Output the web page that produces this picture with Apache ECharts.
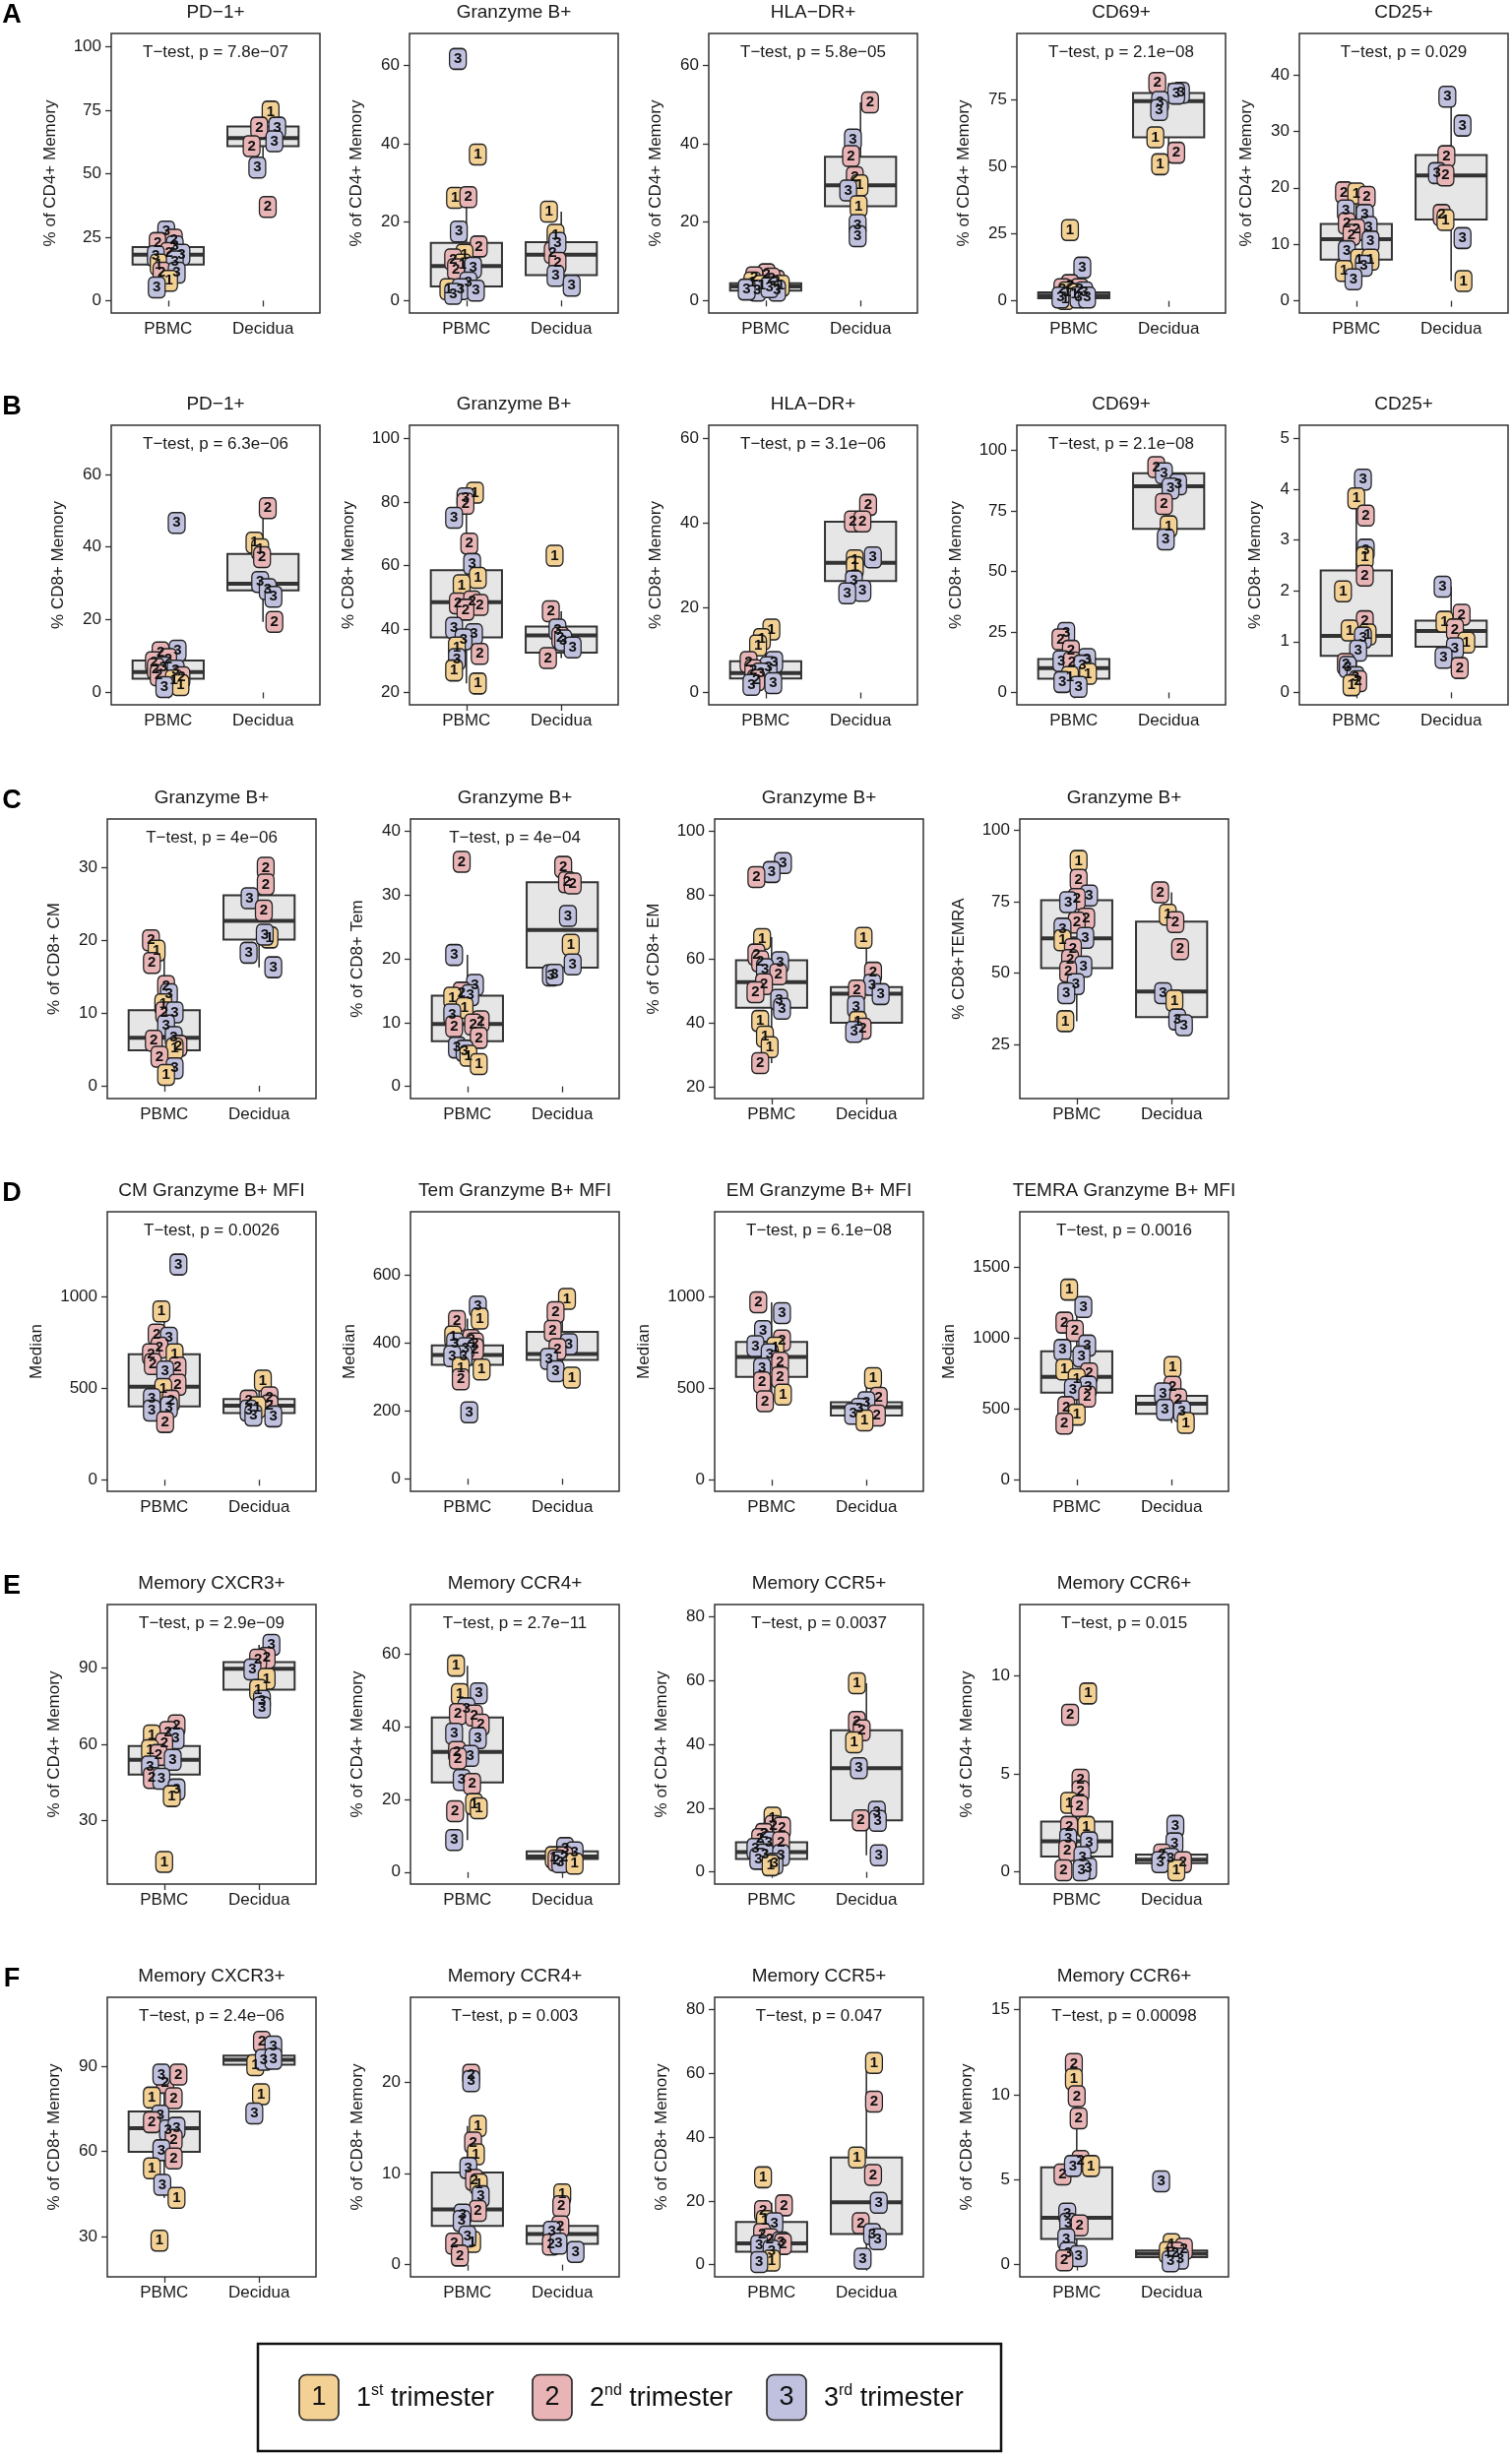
<!DOCTYPE html>
<html>
<head>
<meta charset="utf-8">
<script src="https://cdn.jsdelivr.net/npm/echarts@6/dist/echarts.min.js"></script>
<style>
  html, body { margin: 0; background: #fff; }
  #chart { width: 1536px; height: 2495px; }
</style>
</head>
<body>
<div id="chart"></div>
<script>
// points: [x position (1 = PBMC, 2 = Decidua, with jitter), value, trimester]
// boxes: [low whisker, q1, median, q3, high whisker] for PBMC then Decidua

// ---- A : CD4+ memory ----
const titlesA = ['PD\u22121+', 'Granzyme B+', 'HLA\u2212DR+', 'CD69+', 'CD25+'];
const yNamesA = ['% of CD4+ Memory', '% of CD4+ Memory', '% of CD4+ Memory', '% of CD4+ Memory', '% of CD4+ Memory'];
const pvalsA = ['T\u2212test, p = 7.8e\u221207', null, 'T\u2212test, p = 5.8e\u221205', 'T\u2212test, p = 2.1e\u221208', 'T\u2212test, p = 0.029'];
const yRangeA = [[-4.9, 105.3], [-3.2, 68.2], [-3.2, 68.2], [-4.5, 99.6], [-2.15, 47.3]];
const yTicksA = [[0, 25, 50, 75, 100], [0, 20, 40, 60], [0, 20, 40, 60], [0, 25, 50, 75], [0, 10, 20, 30, 40]];

const ptsA1 = [
  [0.98,27.2,3],[0.89,22.7,2],[1.06,24.0,2],[1.07,21.4,3],[1.01,18.8,2],[0.87,17.5,3],[1.14,18.1,3],
  [0.90,14.2,1],[1.07,15.5,3],[0.93,11.0,2],[1.09,11.0,3],[1.01,7.8,1],[0.88,5.2,3],
  [2.08,74.5,1],[1.96,68.2,2],[2.15,68.2,3],[2.12,62.8,3],[1.88,60.9,2],[1.94,52.4,3],[2.05,36.9,2]
];
const boxA1 = [[5.2, 14.2, 18.1, 21.1, 27.2], [52.4, 60.9, 64.1, 68.6, 74.5]];
const ptsA2 = [
  [0.91,61.7,3],[1.12,37.3,1],[0.88,26.2,1],[1.02,26.4,2],[0.92,17.6,3],[1.13,13.8,2],[0.98,11.7,1],
  [0.86,10.5,2],[0.96,9.2,1],[1.07,8.4,3],[0.89,8.0,2],[1.02,4.6,3],[0.81,2.9,1],[0.94,2.9,3],[0.86,1.7,3],[1.10,2.5,3],
  [1.87,22.7,1],[1.94,16.8,1],[1.91,12.2,2],[1.96,14.7,3],[1.96,9.6,2],[1.94,6.3,3],[2.11,3.8,3]
];
const boxA2 = [[0.5, 3.6, 8.8, 14.7, 26.4], [3.8, 6.5, 11.7, 14.9, 22.7]];
const ptsA3 = [
  [1.01,6.7,2],[0.88,5.9,2],[0.86,4.6,1],[1.11,5.0,2],[1.06,5.6,2],[0.96,3.8,1],[1.16,3.8,1],
  [0.91,2.5,3],[1.12,2.5,3],[1.04,3.4,3],[0.80,2.8,3],
  [2.10,50.6,2],[1.92,41.1,3],[1.90,36.9,2],[1.94,31.5,2],[1.99,29.4,1],[1.87,28.1,3],[1.98,24.1,1],[1.97,19.3,3],[1.97,16.4,3]
];
const boxA3 = [[0.8, 2.5, 3.6, 4.4, 6.7], [16.4, 24.1, 29.4, 36.7, 50.6]];
const ptsA4 = [
  [0.96,26.4,1],[1.09,12.4,3],[0.96,5.9,2],[1.06,4.4,2],[0.88,4.4,2],[0.93,3.2,1],[1.01,2.6,1],[1.11,3.2,3],
  [0.91,0.7,1],[0.86,1.3,3],[1.05,1.3,3],[1.14,1.3,3],
  [1.88,81.2,2],[2.13,77.5,3],[2.08,77.2,3],[1.91,74.1,3],[1.90,71.1,3],[1.86,60.9,1],[2.08,55.2,2],[1.91,50.9,1]
];
const boxA4 = [[0.2, 1.0, 2.0, 3.2, 5.9], [50.9, 60.9, 74.4, 77.4, 81.2]];
const ptsA5 = [
  [0.87,19.2,2],[1.00,19.0,1],[1.11,18.4,2],[0.89,16.0,3],[1.09,15.2,3],[0.90,13.7,2],[1.13,13.1,3],[1.00,12.6,2],
  [0.95,11.7,2],[1.15,10.5,3],[0.90,8.8,3],[1.03,7.3,1],[1.15,7.3,1],[1.08,6.2,3],[0.87,5.3,1],[0.97,3.8,3],
  [1.96,36.1,3],[2.12,31.0,3],[1.95,25.6,2],[1.85,22.6,3],[1.94,22.2,2],[1.90,15.2,2],[1.94,14.3,1],[2.12,11.1,3],[2.13,3.5,1]
];
const boxA5 = [[3.8, 7.3, 10.9, 13.6, 19.2], [3.5, 14.4, 22.2, 25.8, 36.1]];

// ---- B : CD8+ memory ----
const titlesB = ['PD\u22121+', 'Granzyme B+', 'HLA\u2212DR+', 'CD69+', 'CD25+'];
const yNamesB = ['% CD8+ Memory', '% CD8+ Memory', '% CD8+ Memory', '% CD8+ Memory', '% CD8+ Memory'];
const pvalsB = ['T\u2212test, p = 6.3e\u221206', null, 'T\u2212test, p = 3.1e\u221206', 'T\u2212test, p = 2.1e\u221208', null];
const yRangeB = [[-3.4, 73.5], [16.2, 104.1], [-2.9, 63.1], [-5.1, 110.3], [-0.245, 5.26]];
const yTicksB = [[0, 20, 40, 60], [20, 40, 60, 80, 100], [0, 20, 40, 60], [0, 25, 50, 75, 100], [0, 1, 2, 3, 4, 5]];

const ptsB1 = [
  [1.09,46.6,3],[1.10,11.5,3],[0.92,11.0,2],[0.85,8.3,2],[1.00,9.2,2],[0.95,6.9,3],[0.87,6.5,2],[1.08,6.0,3],
  [0.90,4.7,2],[1.14,4.2,2],[1.06,3.3,1],[1.13,2.0,1],[0.96,1.5,3],
  [2.05,50.7,2],[1.91,41.2,1],[1.97,39.4,1],[1.99,37.2,2],[1.97,30.4,3],[2.05,28.4,3],[2.11,26.3,3],[2.12,19.4,2]
];
const boxB1 = [[1.0, 3.8, 5.6, 8.8, 12.0], [19.4, 28.1, 29.9, 38.1, 50.7]];
const ptsB2 = [
  [1.09,82.9,1],[0.99,81.1,3],[0.99,79.4,2],[0.87,75.0,3],[1.03,66.9,2],[1.06,60.5,3],[1.12,56.1,1],[0.95,53.8,1],
  [0.91,48.1,2],[1.06,48.7,2],[1.14,47.6,2],[0.99,46.1,2],[0.87,40.4,3],[1.08,38.4,3],[0.97,36.8,3],[0.90,34.2,1],
  [1.14,32.2,2],[0.90,30.6,3],[0.87,27.0,1],[1.12,22.9,1],
  [1.93,63.1,1],[1.89,45.6,2],[1.96,39.9,3],[1.99,37.3,2],[2.02,36.5,3],[2.12,34.2,3],[1.86,30.9,2]
];
const boxB2 = [[22.9, 37.4, 48.5, 58.5, 82.9], [30.9, 32.6, 38.0, 40.8, 45.6]];
const ptsB3 = [
  [1.06,14.9,1],[0.96,12.6,1],[0.92,11.1,1],[0.82,7.2,2],[1.09,7.2,3],[1.03,6.0,3],[0.87,5.3,2],[0.95,4.5,3],
  [0.90,2.9,2],[1.08,2.2,3],[0.85,1.8,3],
  [2.08,44.3,2],[1.92,40.4,2],[2.02,40.4,2],[2.13,31.9,3],[1.94,31.2,1],[1.94,29.6,1],[1.93,26.3,3],[2.02,24.0,3],[1.86,23.4,3]
];
const boxB3 = [[0.5, 3.3, 4.6, 7.4, 14.9], [23.4, 26.3, 30.6, 40.3, 44.3]];
const ptsB4 = [
  [0.92,24.6,3],[0.86,21.9,2],[0.97,17.2,2],[1.14,13.8,3],[0.87,12.9,3],[0.98,12.4,2],[1.09,11.1,3],[1.15,7.7,1],
  [0.96,6.4,1],[0.88,4.3,3],[1.05,2.3,3],
  [1.87,93.0,2],[1.95,90.5,3],[2.10,85.9,3],[2.02,84.2,3],[1.95,77.8,2],[2.00,68.6,1],[1.97,63.2,3]
];
const boxB4 = [[1.0, 5.7, 10.0, 13.8, 24.6], [63.2, 67.5, 85.1, 90.5, 93.6]];
const ptsB5 = [
  [1.07,4.19,3],[1.00,3.82,1],[1.10,3.48,2],[1.10,2.81,3],[1.09,2.66,1],[1.09,2.30,2],[0.86,1.99,1],[1.09,1.40,2],
  [0.93,1.22,1],[1.12,1.14,1],[1.07,1.08,3],[1.02,0.82,3],[0.89,0.56,2],[0.91,0.50,3],[0.99,0.30,3],[1.02,0.22,2],[0.95,0.14,1],
  [1.91,2.08,3],[2.11,1.53,2],[1.93,1.39,1],[2.04,1.24,2],[2.16,0.98,1],[2.04,0.87,3],[1.92,0.68,3],[2.09,0.48,2]
];
const boxB5 = [[0.14, 0.72, 1.11, 2.40, 4.19], [0.48, 0.90, 1.21, 1.41, 2.08]];

// ---- C : Granzyme B+ in CD8+ subsets ----
const titlesC = ['Granzyme B+', 'Granzyme B+', 'Granzyme B+', 'Granzyme B+'];
const yNamesC = ['% of CD8+ CM', '% of CD8+ Tem', '% of CD8+ EM', '% CD8+TEMRA'];
const pvalsC = ['T\u2212test, p = 4e\u221206', 'T\u2212test, p = 4e\u221204', null, null];
const yRangeC = [[-1.76, 36.7], [-1.9, 41.9], [16.3, 103.8], [6.0, 103.9]];
const yTicksC = [[0, 10, 20, 30], [0, 10, 20, 30, 40], [20, 40, 60, 80, 100], [25, 50, 75, 100]];

const ptsC1 = [
  [0.86,20.0,2],[0.92,18.6,1],[0.87,16.9,2],[1.02,13.7,2],[1.05,12.6,3],[0.99,11.2,1],[1.00,10.1,2],[1.11,10.1,3],
  [1.02,8.3,3],[1.10,6.7,3],[0.89,6.2,2],[1.15,5.5,2],[1.11,5.1,1],[0.95,4.0,2],[1.11,2.4,3],[1.02,1.5,1],
  [2.07,30.0,2],[2.07,27.7,2],[1.90,25.8,3],[2.05,24.1,2],[2.11,20.4,1],[2.06,20.8,3],[1.89,18.3,3],[2.15,16.3,3]
];
const boxC1 = [[1.5, 4.87, 6.6, 10.4, 18.2], [16.3, 20.1, 22.7, 26.2, 30.0]];
const ptsC2 = [
  [0.94,35.2,2],[0.86,20.6,3],[1.08,15.9,3],[0.94,14.7,2],[1.03,14.3,3],[0.84,13.9,1],[0.97,12.3,1],[0.84,11.3,3],
  [1.14,10.2,2],[1.06,9.7,2],[0.86,9.4,2],[1.12,7.6,2],[0.89,6.1,3],[0.97,5.6,3],[1.01,4.8,1],[1.12,3.5,1],
  [2.01,34.4,2],[2.05,32.0,2],[2.11,31.8,2],[2.06,26.7,3],[2.09,22.2,1],[2.11,19.1,3],[1.88,17.4,3],[1.92,17.5,3]
];
const boxC2 = [[3.5, 7.1, 9.8, 14.2, 20.6], [17.4, 18.6, 24.5, 32.0, 34.4]];
const ptsC3 = [
  [1.12,90.0,3],[1.00,87.2,3],[0.84,85.6,2],[0.90,66.2,1],[0.84,61.4,2],[0.88,59.3,2],[1.09,59.0,3],[0.93,56.8,3],
  [1.07,55.2,2],[0.92,52.1,2],[0.83,49.6,2],[1.08,47.2,3],[1.11,44.4,3],[0.88,40.6,1],[0.93,35.7,1],[0.98,32.4,1],[0.88,27.4,2],
  [1.97,66.6,1],[2.07,55.7,2],[2.06,51.9,3],[1.90,50.1,2],[2.15,49.0,3],[1.89,45.1,3],[1.91,40.3,1],[1.96,38.2,2],[1.87,37.2,3]
];
const boxC3 = [[27.4, 44.7, 52.7, 59.6, 66.8], [37.2, 40.0, 49.1, 51.2, 66.6]];
const ptsC4 = [
  [1.02,89.2,1],[1.02,82.6,2],[1.13,77.1,3],[1.00,75.9,2],[0.91,74.8,3],[1.10,69.0,2],[1.00,67.6,2],[0.85,65.5,3],
  [1.09,62.3,3],[0.85,61.4,1],[0.96,58.3,2],[0.93,54.5,2],[1.07,52.2,3],[0.91,50.5,2],[0.99,46.1,3],[0.89,42.9,3],[0.88,33.1,1],
  [1.88,78.2,2],[1.96,70.4,1],[2.04,67.8,2],[2.09,58.3,2],[1.91,42.9,3],[2.03,40.3,1],[2.06,33.7,3],[2.13,31.7,3]
];
const boxC4 = [[33.1, 51.7, 62.1, 75.5, 89.2], [31.7, 34.5, 43.5, 68.0, 78.2]];

// ---- D : Granzyme B MFI ----
const titlesD = ['CM Granzyme B+ MFI', 'Tem Granzyme B+ MFI', 'EM Granzyme B+ MFI', 'TEMRA Granzyme B+ MFI'];
const yNamesD = ['Median', 'Median', 'Median', 'Median'];
const pvalsD = ['T\u2212test, p = 0.0026', null, 'T\u2212test, p = 6.1e\u221208', 'T\u2212test, p = 0.0016'];
const yRangeD = [[-63, 1463], [-37, 787], [-63, 1463], [-84, 1893]];
const yTicksD = [[0, 500, 1000], [0, 200, 400, 600], [0, 500, 1000], [0, 500, 1000, 1500]];

const ptsD1 = [
  [1.15,1175,3],[0.97,919,1],[0.92,793,2],[1.05,775,3],[0.95,721,2],[0.86,685,2],[1.11,685,1],[0.88,631,2],
  [1.14,613,2],[1.01,591,3],[1.14,519,2],[0.99,496,1],[1.07,432,2],[0.87,441,3],[1.05,396,3],[0.87,378,3],[1.01,315,2],
  [2.04,541,1],[2.11,450,2],[1.89,432,2],[2.11,405,2],[1.98,396,1],[1.89,378,3],[1.94,351,3],[2.15,346,3]
];
const boxD1 = [[315, 400, 508, 685, 919], [346, 364, 405, 441, 541]];
const ptsD2 = [
  [1.11,508,3],[1.13,472,1],[0.89,465,2],[0.85,419,1],[1.04,409,2],[0.87,399,3],[1.08,399,2],[1.08,382,2],
  [0.98,385,3],[0.96,361,3],[0.84,361,3],[0.93,327,1],[1.15,322,1],[0.93,293,2],[1.02,196,3],
  [2.05,530,1],[1.93,491,2],[1.90,436,2],[2.07,397,3],[1.95,382,2],[1.86,353,3],[1.93,317,3],[2.10,298,1]
];
const boxD2 = [[293, 336, 365, 393, 472], [298, 350, 368, 433, 530]];
const ptsD3 = [
  [0.86,969,2],[1.11,910,3],[0.91,811,3],[1.11,760,2],[0.83,730,3],[1.04,721,1],[0.98,685,3],[1.09,640,2],
  [0.90,607,3],[1.09,559,2],[0.90,532,2],[1.12,465,1],[0.93,429,2],
  [2.07,555,1],[2.13,447,2],[2.00,423,3],[1.93,387,3],[1.86,360,3],[2.11,351,2],[1.98,324,1]
];
const boxD3 = [[429, 562, 670, 753, 969], [324, 351, 396, 423, 555]];
const ptsD4 = [
  [0.92,1342,1],[1.07,1219,3],[0.87,1109,2],[0.98,1051,2],[1.11,947,3],[0.85,916,3],[1.05,870,3],[0.87,777,1],
  [1.13,749,2],[1.00,709,1],[1.12,656,3],[0.96,637,3],[1.11,586,2],[0.89,512,2],[1.00,458,1],[0.87,395,2],
  [2.01,795,1],[2.01,656,2],[1.91,609,3],[2.07,567,2],[1.93,493,3],[2.11,481,3],[2.15,400,1]
];
const boxD4 = [[395, 614, 726, 907, 1342], [400, 465, 535, 591, 795]];

// ---- E : CD4+ memory chemokine receptors ----
const titlesE = ['Memory CXCR3+', 'Memory CCR4+', 'Memory CCR5+', 'Memory CCR6+'];
const yNamesE = ['% of CD4+ Memory', '% of CD4+ Memory', '% of CD4+ Memory', '% of CD4+ Memory'];
const pvalsE = ['T\u2212test, p = 2.9e\u221209', 'T\u2212test, p = 2.7e\u221211', 'T\u2212test, p = 0.0037', 'T\u2212test, p = 0.015'];
const yRangeE = [[5.2, 114.8], [-3.3, 73.5], [-3.8, 83.8], [-0.62, 13.65]];
const yTicksE = [[30, 60, 90], [0, 20, 40, 60], [0, 20, 40, 60, 80], [0, 5, 10]];

const ptsE1 = [
  [1.13,67.4,2],[1.04,64.8,2],[0.87,63.5,1],[1.12,62.3,3],[1.00,60.3,2],[0.85,57.7,1],[0.94,55.8,2],[1.09,53.9,3],
  [0.85,51.3,3],[0.87,46.8,2],[0.97,46.5,3],[1.13,42.3,3],[1.08,39.7,1],[1.00,13.9,1],
  [2.13,99.0,3],[2.08,93.9,2],[1.99,93.2,2],[1.93,89.3,3],[2.08,85.7,1],[1.99,81.3,1],[2.03,77.1,3],[2.03,74.5,3]
];
const boxE1 = [[39.7, 48.1, 53.9, 59.3, 67.4], [74.5, 81.4, 89.6, 92.2, 99.0]];
const ptsE2 = [
  [0.88,56.7,1],[0.92,48.9,1],[1.12,49.1,3],[0.99,45.0,3],[0.90,43.4,2],[1.07,43.0,2],[1.14,40.5,2],[0.86,38.0,3],
  [1.11,36.8,3],[0.89,33.0,2],[1.03,31.9,3],[0.90,31.2,2],[0.94,25.3,3],[1.05,24.2,2],[1.07,18.7,1],[1.12,17.5,1],
  [0.87,16.7,2],[0.86,8.8,3],
  [2.03,6.6,3],[2.13,5.4,3],[1.91,4.1,1],[2.02,4.1,2],[1.94,3.2,2],[1.98,2.7,3],[2.13,2.3,1]
];
const boxE2 = [[8.8, 24.6, 33.0, 42.5, 56.7], [2.3, 3.6, 4.3, 5.7, 6.6]];
const ptsE3 = [
  [1.01,17.0,1],[1.02,14.4,2],[1.11,13.9,2],[0.92,11.9,2],[0.88,10.3,2],[0.97,9.3,3],[1.10,9.3,2],[0.83,7.2,3],
  [0.93,5.5,3],[1.10,5.2,3],[0.86,4.1,3],[1.03,2.6,3],[0.99,2.1,1],
  [1.90,59.1,1],[1.90,47.0,2],[1.95,44.4,2],[1.87,40.6,1],[1.92,32.5,3],[2.11,18.9,3],[1.94,16.2,2],[2.12,16.0,3],[2.13,5.2,3]
];
const boxE3 = [[2.1, 4.1, 6.2, 9.3, 17.0], [5.2, 16.2, 32.5, 44.4, 59.1]];
const ptsE4 = [
  [1.12,9.11,1],[0.93,8.02,2],[1.04,4.71,2],[1.04,4.12,2],[0.92,3.53,1],[1.03,3.36,2],[0.92,2.30,2],[1.10,2.30,1],
  [0.91,1.68,3],[1.13,1.51,3],[0.90,1.09,2],[1.06,0.76,3],[1.12,0.17,3],[1.05,0.08,3],[0.86,0.08,2],
  [2.04,2.35,3],[2.03,1.46,3],[1.90,0.89,2],[1.99,0.67,3],[1.88,0.50,3],[2.12,0.50,2],[2.05,0.08,1]
];
const boxE4 = [[0.0, 0.79, 1.56, 2.57, 4.71], [0.0, 0.45, 0.62, 0.89, 1.46]];

// ---- F : CD8+ memory chemokine receptors ----
const titlesF = ['Memory CXCR3+', 'Memory CCR4+', 'Memory CCR5+', 'Memory CCR6+'];
const yNamesF = ['% of CD8+ Memory', '% of CD8+ Memory', '% of CD8+ Memory', '% of CD8+ Memory'];
const pvalsF = ['T\u2212test, p = 2.4e\u221206', 'T\u2212test, p = 0.003', 'T\u2212test, p = 0.047', 'T\u2212test, p = 0.00098'];
const yRangeF = [[15.7, 114.4], [-1.33, 29.3], [-3.8, 83.8], [-0.72, 15.72]];
const yTicksF = [[30, 60, 90], [0, 10, 20], [0, 20, 40, 60, 80], [0, 5, 10, 15]];

const ptsF1 = [
  [1.01,84.2,2],[0.97,87.1,3],[1.15,87.1,2],[0.87,79.0,1],[1.10,78.8,2],[0.96,72.6,3],[0.87,70.3,2],[1.04,67.4,3],
  [1.13,68.3,3],[1.10,64.1,2],[0.97,60.4,3],[1.10,57.5,2],[0.87,54.0,1],[0.98,48.2,3],[1.13,43.6,1],[0.95,28.5,1],
  [2.03,98.7,2],[2.15,97.0,3],[1.96,90.4,1],[2.05,92.3,3],[2.15,92.7,3],[2.02,80.2,1],[1.95,73.4,3]
];
const boxF1 = [[43.6, 59.8, 68.2, 74.1, 87.1], [90.3, 90.6, 92.3, 93.8, 98.7]];
const ptsF2 = [
  [1.04,20.8,2],[1.04,20.1,3],[1.11,15.2,1],[1.06,13.4,2],[1.09,12.1,1],[1.01,10.6,3],[1.07,9.3,2],[1.12,8.8,1],
  [1.14,7.5,3],[1.11,5.9,2],[0.95,5.5,3],[0.94,4.8,3],[1.05,2.5,1],[1.00,3.1,3],[0.86,2.3,2],[0.92,1.0,2],
  [2.00,7.7,1],[1.99,6.4,2],[1.98,4.2,2],[1.89,3.6,3],[1.88,2.2,2],[1.96,2.3,3],[2.14,1.4,3]
];
const boxF2 = [[1.0, 4.25, 6.05, 10.1, 15.2], [1.4, 2.27, 3.35, 4.25, 6.4]];
const ptsF3 = [
  [0.91,27.4,1],[1.13,18.6,2],[0.91,16.8,2],[0.93,13.7,1],[1.03,13.0,3],[0.90,9.6,2],[0.98,8.0,2],[1.10,7.0,3],
  [1.12,6.5,2],[0.87,6.0,3],[1.00,4.4,3],[1.00,1.3,1],[0.87,0.8,3],
  [2.08,63.2,1],[2.08,51.1,2],[1.90,33.6,1],[2.07,28.1,2],[2.13,19.4,3],[1.94,13.0,2],[2.06,9.6,3],[2.12,8.0,3],[1.96,1.9,3]
];
const boxF3 = [[0.3, 4.1, 6.7, 13.4, 19.4], [1.9, 9.6, 19.6, 33.6, 63.2]];
const ptsF4 = [
  [0.97,11.8,2],[0.97,10.9,1],[1.00,9.9,2],[1.02,8.6,2],[1.04,6.1,2],[0.85,5.3,2],[0.96,5.8,3],[1.15,5.8,1],
  [0.90,3.0,3],[0.91,2.4,3],[1.03,2.3,2],[0.89,1.5,3],[0.91,0.7,3],[1.02,0.5,3],[0.87,0.25,2],
  [1.89,4.9,3],[2.00,1.2,1],[2.13,0.93,2],[1.96,0.73,1],[2.04,0.70,2],[2.09,0.35,3],[1.99,0.19,3]
];
const boxF4 = [[0.25, 1.51, 2.76, 5.72, 11.8], [0.15, 0.44, 0.64, 0.83, 1.2]];

// legend
const legendKeys = ['1', '2', '3'];
const legendSup = ['st', 'nd', 'rd'];
const FILL = ['#F3D093', '#E9B4B6', '#BFC1DE'];

// ---- layout ----
const FONT = "'Liberation Sans', Arial, Helvetica, sans-serif";
const TXT = '#1a1a1a';
const ROW_TOP = [34, 432, 832, 1231, 1630, 2029];
const PLOT_H = 284, PLOT_W = 212;
const COL5 = [113, 416, 720, 1033, 1320];
const COL4 = [109, 417, 726, 1036];

const rows = [
  { letter: 'A', cols: COL5, titles: titlesA, names: yNamesA, pvals: pvalsA, ranges: yRangeA, ticks: yTicksA,
    pts: [ptsA1, ptsA2, ptsA3, ptsA4, ptsA5], boxes: [boxA1, boxA2, boxA3, boxA4, boxA5] },
  { letter: 'B', cols: COL5, titles: titlesB, names: yNamesB, pvals: pvalsB, ranges: yRangeB, ticks: yTicksB,
    pts: [ptsB1, ptsB2, ptsB3, ptsB4, ptsB5], boxes: [boxB1, boxB2, boxB3, boxB4, boxB5] },
  { letter: 'C', cols: COL4, titles: titlesC, names: yNamesC, pvals: pvalsC, ranges: yRangeC, ticks: yTicksC,
    pts: [ptsC1, ptsC2, ptsC3, ptsC4], boxes: [boxC1, boxC2, boxC3, boxC4] },
  { letter: 'D', cols: COL4, titles: titlesD, names: yNamesD, pvals: pvalsD, ranges: yRangeD, ticks: yTicksD,
    pts: [ptsD1, ptsD2, ptsD3, ptsD4], boxes: [boxD1, boxD2, boxD3, boxD4] },
  { letter: 'E', cols: COL4, titles: titlesE, names: yNamesE, pvals: pvalsE, ranges: yRangeE, ticks: yTicksE,
    pts: [ptsE1, ptsE2, ptsE3, ptsE4], boxes: [boxE1, boxE2, boxE3, boxE4] },
  { letter: 'F', cols: COL4, titles: titlesF, names: yNamesF, pvals: pvalsF, ranges: yRangeF, ticks: yTicksF,
    pts: [ptsF1, ptsF2, ptsF3, ptsF4], boxes: [boxF1, boxF2, boxF3, boxF4] }
];

// name gap depends on the widest tick label
const GAP = { 1: 36, 2: 45, 3: 53, 4: 63 };

function renderBox(params, api) {
  const x = api.value(0);
  const lo = api.coord([x, api.value(1)]);
  const q1 = api.coord([x, api.value(2)]);
  const md = api.coord([x, api.value(3)]);
  const q3 = api.coord([x, api.value(4)]);
  const hi = api.coord([x, api.value(5)]);
  const half = api.size([0.75, 0])[0] / 2;
  const cx = q1[0];
  const line = { stroke: '#333', lineWidth: 1.6 };
  return {
    type: 'group',
    children: [
      { type: 'line', shape: { x1: cx, y1: hi[1], x2: cx, y2: q3[1] }, style: line },
      { type: 'line', shape: { x1: cx, y1: q1[1], x2: cx, y2: lo[1] }, style: line },
      { type: 'rect', shape: { x: cx - half, y: q3[1], width: half * 2, height: q1[1] - q3[1] },
        style: { fill: '#e6e6e6', stroke: '#333', lineWidth: 2 } },
      { type: 'line', shape: { x1: cx - half, y1: md[1], x2: cx + half, y2: md[1] },
        style: { stroke: '#333', lineWidth: 4 } }
    ]
  };
}

const grid = [], xAxis = [], yAxis = [], series = [], graphic = [];
let k = 0;
rows.forEach((row, r) => {
  const top = ROW_TOP[r];
  graphic.push({ type: 'text', x: 12, y: top - 18,
    style: { text: row.letter, fontSize: 27, fontWeight: 'bold', fontFamily: FONT, fill: '#000', align: 'center', verticalAlign: 'middle' } });
  row.titles.forEach((title, i) => {
    const left = row.cols[i];
    const cx = left + PLOT_W / 2;
    grid.push({ left: left, top: top, width: PLOT_W, height: PLOT_H, show: true,
      backgroundColor: '#fff', borderColor: '#333', borderWidth: 1.5, outerBoundsMode: 'none' });
    xAxis.push({
      gridIndex: k, type: 'value', min: 0.4, max: 2.6,
      axisLine: { show: false }, splitLine: { show: false },
      axisTick: { show: true, customValues: [1, 2], length: 6, lineStyle: { color: '#333', width: 1.3 } },
      axisLabel: { customValues: [1, 2], formatter: v => (v === 1 ? 'PBMC' : 'Decidua'),
        fontSize: 17, color: TXT, fontFamily: FONT, margin: 8 }
    });
    const ticks = row.ticks[i];
    const maxLen = Math.max(...ticks.map(t => String(t).length));
    yAxis.push({
      gridIndex: k, type: 'value', min: row.ranges[i][0], max: row.ranges[i][1],
      axisLine: { show: false }, splitLine: { show: false },
      axisTick: { show: true, customValues: ticks, length: 6, lineStyle: { color: '#333', width: 1.3 } },
      axisLabel: { customValues: ticks, formatter: v => String(v), fontSize: 17, color: TXT, fontFamily: FONT, margin: 10 },
      name: row.names[i], nameLocation: 'middle', nameGap: GAP[maxLen], nameMoveOverlap: false,
      nameTextStyle: { fontSize: 17, color: TXT, fontFamily: FONT }
    });
    series.push({
      type: 'custom', xAxisIndex: k, yAxisIndex: k, z: 2, silent: true,
      renderItem: renderBox,
      data: row.boxes[i].map((b, j) => [j + 1].concat(b))
    });
    series.push({
      type: 'scatter', xAxisIndex: k, yAxisIndex: k, z: 3, clip: false, silent: true,
      symbol: 'roundRect', symbolSize: [17, 21],
      itemStyle: { color: p => FILL[p.value[2] - 1], borderColor: '#222', borderWidth: 1.4, opacity: 1 },
      label: { show: true, position: 'inside', formatter: p => String(p.value[2]),
        fontSize: 15, fontWeight: 'bold', color: '#111', fontFamily: FONT },
      data: row.pts[i]
    });
    graphic.push({ type: 'text', x: cx, y: top - 21,
      style: { text: title, fontSize: 19, fontFamily: FONT, fill: TXT, align: 'center', verticalAlign: 'middle' } });
    if (row.pvals[i]) {
      graphic.push({ type: 'text', x: cx, y: top + 19,
        style: { text: row.pvals[i], fontSize: 17, fontFamily: FONT, fill: TXT, align: 'center', verticalAlign: 'middle' } });
    }
    k++;
  });
});

// legend box
const LEG_X = 262, LEG_Y = 2381, LEG_W = 755, LEG_H = 109;
const legCy = LEG_Y + LEG_H / 2;
graphic.push({ type: 'rect', shape: { x: LEG_X, y: LEG_Y, width: LEG_W, height: LEG_H },
  style: { fill: 'none', stroke: '#111', lineWidth: 2.5 } });
const swatchX = [324, 561, 799];
legendKeys.forEach((key, i) => {
  graphic.push({ type: 'rect', shape: { x: swatchX[i] - 20, y: legCy - 23, width: 40, height: 46, r: 7 },
    style: { fill: FILL[i], stroke: '#222', lineWidth: 1.6 } });
  graphic.push({ type: 'text', x: swatchX[i], y: legCy,
    style: { text: key, fontSize: 27, fontFamily: FONT, fill: '#111', align: 'center', verticalAlign: 'middle' } });
  graphic.push({ type: 'text', x: swatchX[i] + 38, y: legCy,
    style: {
      text: '{a|' + key + '}{s|' + legendSup[i] + '}{a| trimester}',
      verticalAlign: 'middle', align: 'left',
      rich: {
        a: { fontSize: 27, fontFamily: FONT, fill: '#111', lineHeight: 30, verticalAlign: 'bottom' },
        s: { fontSize: 16, fontFamily: FONT, fill: '#111', lineHeight: 30, verticalAlign: 'top' }
      }
    } });
});

const chart = echarts.init(document.getElementById('chart'));
chart.setOption({
  backgroundColor: '#fff',
  animation: false,
  grid: grid,
  xAxis: xAxis,
  yAxis: yAxis,
  series: series,
  graphic: graphic
});
</script>
</body>
</html>
